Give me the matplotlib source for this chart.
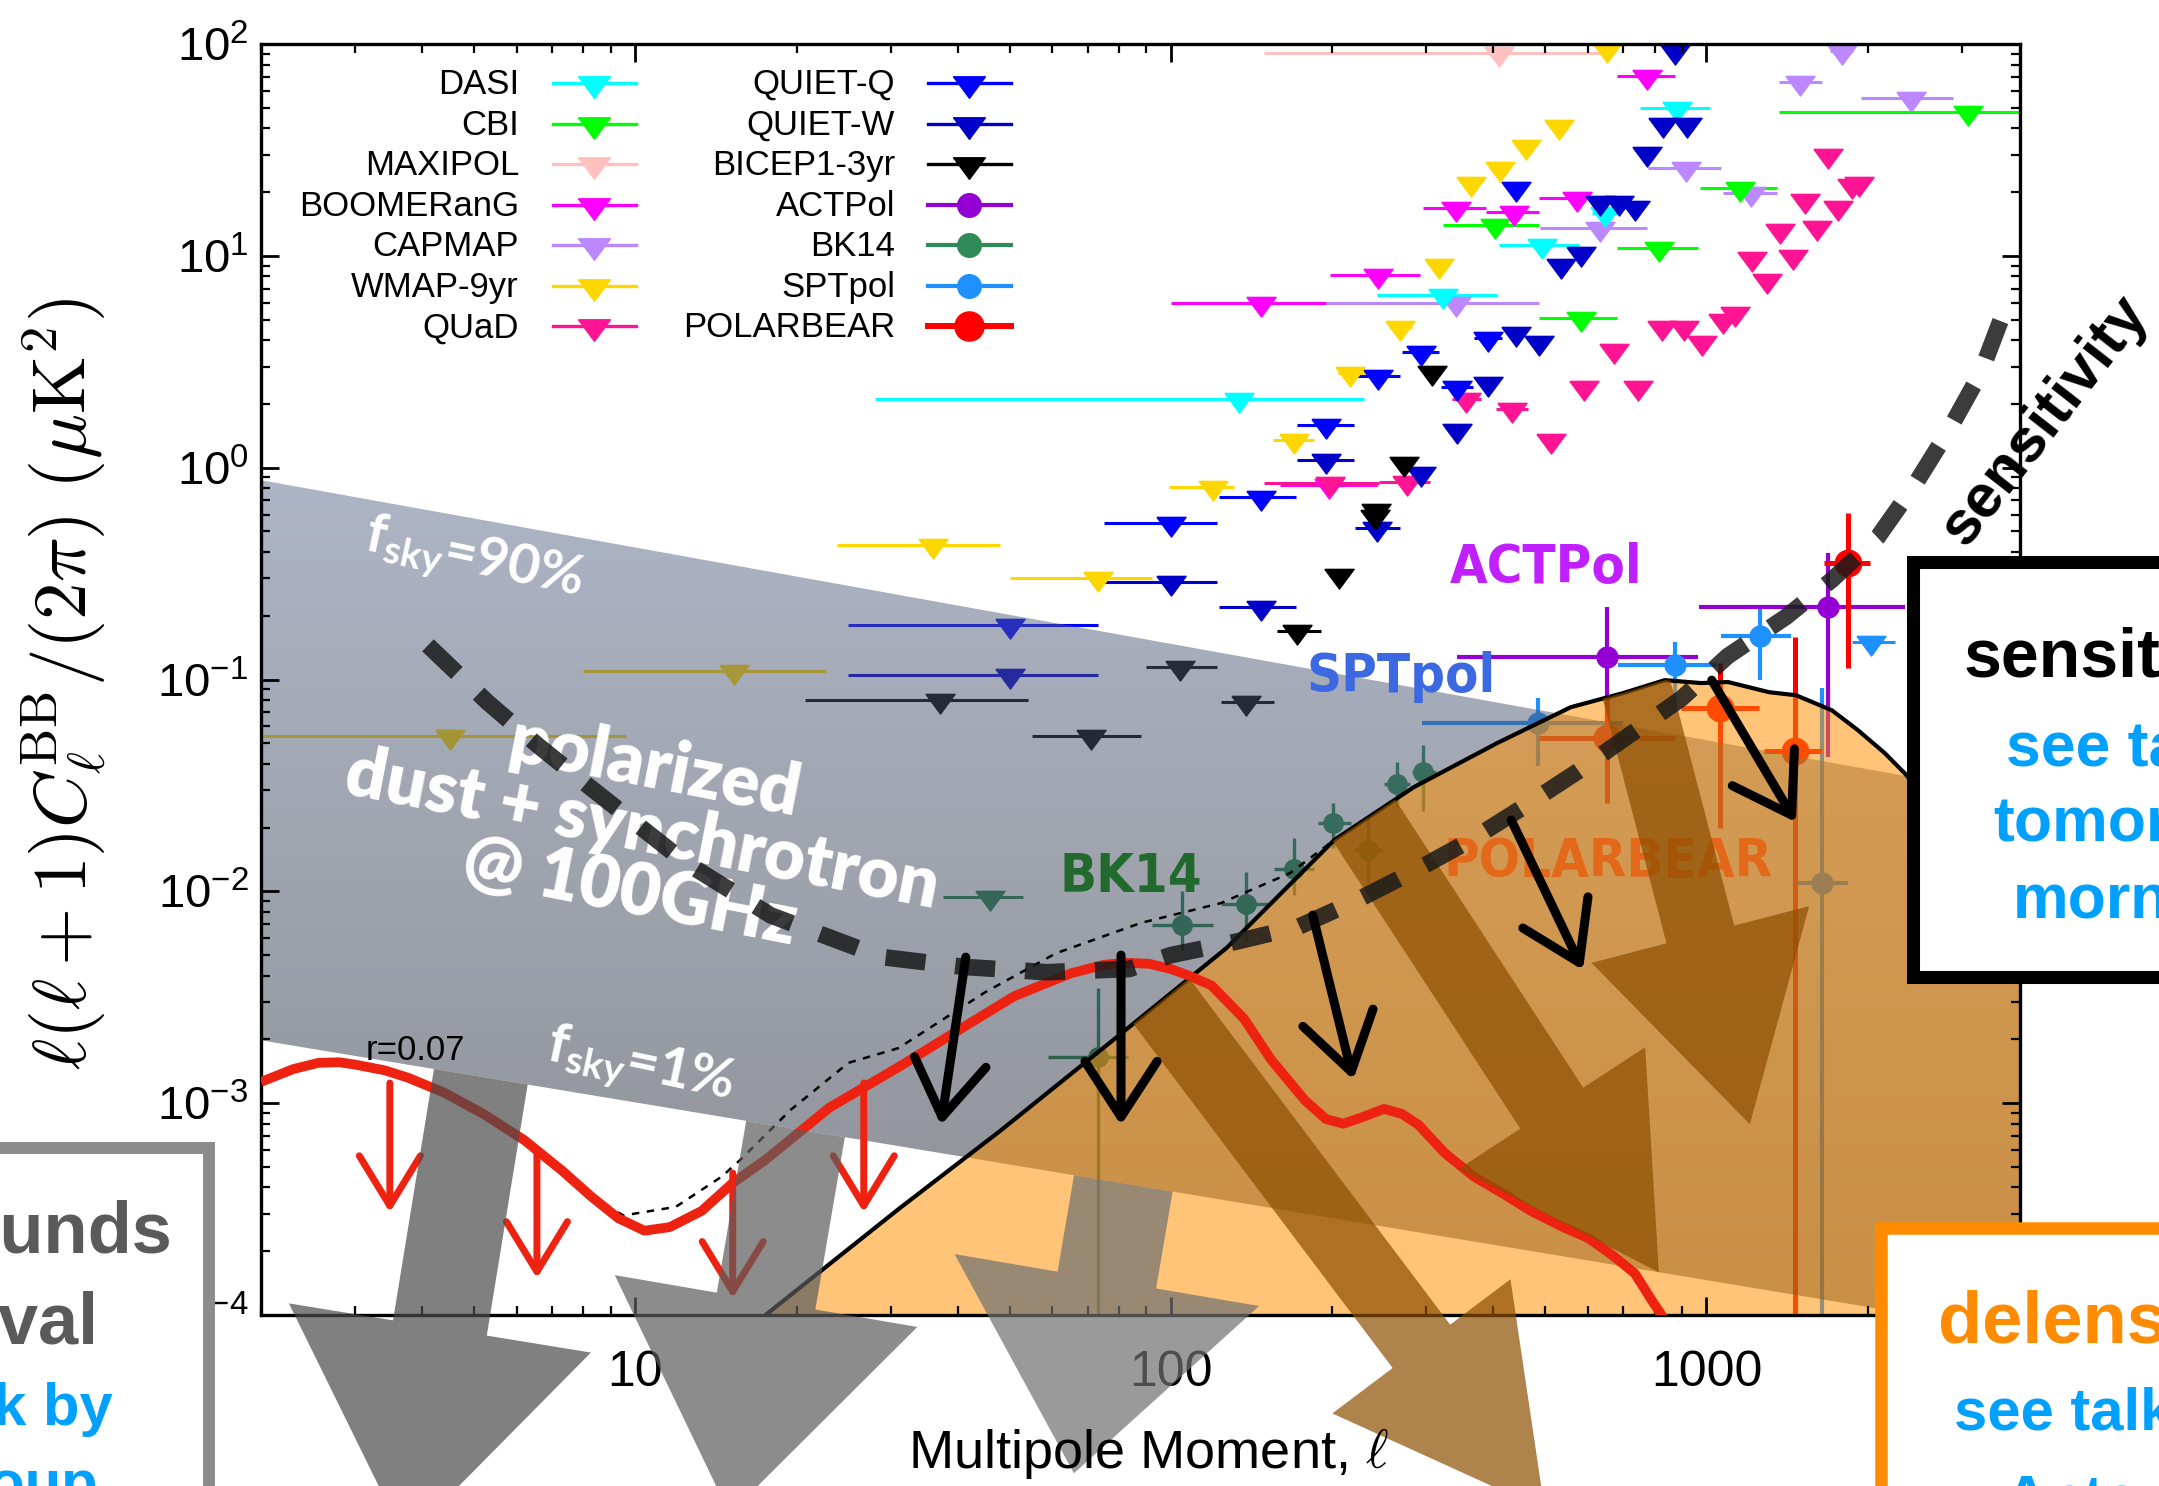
import numpy as np
import matplotlib
matplotlib.use("Agg")
import matplotlib.pyplot as plt
from matplotlib.patches import Polygon, Rectangle, FancyArrowPatch, ArrowStyle
from matplotlib.ticker import LogLocator, NullFormatter

W, H = 2159, 1486

# ---------------- upper limits (ell, ell_lo, ell_hi, value) ----------------
dasi_ell = [134, 322, 493, 646, 881]
dasi_lo = [28, 243, 410, 612, 752]
dasi_hi = [229, 407, 578, 690, 1016]
dasi_val = [2.1, 6.5, 11.2, 16, 50]

cbi_ell = [403, 583, 815, 1154, 3076]
cbi_lo = [322, 486, 681, 972, 1365]
cbi_hi = [486, 681, 964, 1352, 3850]
cbi_val = [14, 5.1, 10.9, 21, 48]

maxipol_ell = [410]
maxipol_lo = [149]
maxipol_hi = [641]
maxipol_val = [91]

boom_ell = [147, 197, 244, 340, 437, 573, 774]
boom_lo = [100, 160, 198, 295, 388, 486, 681]
boom_hi = [195, 243, 292, 387, 486, 661, 873]
boom_val = [6.0, 0.83, 8.1, 16.8, 16.1, 18.7, 70.6]

capmap_ell = [340, 633, 916, 1210, 1493, 1790, 2410]
capmap_lo = [195, 489, 779, 1074, 1365, 1700, 1941]
capmap_hi = [486, 774, 1064, 1352, 1641, 1880, 2884]
capmap_val = [6.0, 13.5, 26, 19.8, 66, 93, 55.6]

wmap_ell = [4.5, 15.3, 36, 73, 120, 170, 216, 268, 316, 363, 411, 460, 530, 652]
wmap_lo = [2, 8, 23.8, 50, 99, 155, 205, 255, 306, 352, 399, 447, 515, 630]
wmap_hi = [9.6, 22.7, 48, 92, 131, 185, 230, 282, 327, 375, 423, 473, 545, 675]
wmap_val = [0.054, 0.11, 0.43, 0.30, 0.81, 1.35, 2.8, 4.6, 9.1, 22, 26, 33, 41, 95]

quad_ell = [198, 276, 356, 434, 513, 590, 672, 745, 826, 908, 982, 1074,
            1130, 1216, 1297, 1371, 1449, 1528, 1608, 1687, 1758, 1870, 1928]
quad_lo = [149, 245, 335, 405, 498, 575, 655, 728, 810, 892, 965, 1055,
           1110, 1196, 1276, 1350, 1428, 1505, 1585, 1663, 1735, 1845, 1905]
quad_hi = [245, 305, 380, 465, 528, 606, 690, 762, 842, 925, 1000, 1093,
           1150, 1236, 1318, 1392, 1470, 1550, 1630, 1710, 1780, 1895, 1950]
quad_val = [0.85, 0.86, 2.1, 1.9, 1.35, 2.4, 3.6, 2.4, 4.6, 4.6, 3.9, 5.0,
            5.4, 9.8, 7.7, 13.2, 10.0, 18.4, 13.7, 30, 17, 21.6, 22]

qq_ell = [50, 100, 147, 195, 244, 293, 342, 391, 441]
qq_lo = [25, 75, 123, 172, 221, 270, 320, 368, 430]
qq_hi = [73, 122, 171, 220, 268, 316, 367, 415, 452]
qq_val = [0.18, 0.55, 0.73, 1.59, 2.7, 3.5, 2.4, 4.1, 21]

qw_ell = [50, 100, 147, 195, 243, 293, 342, 391, 440, 486, 535, 583, 633,
          687, 736, 774, 830, 918, 873]
qw_lo = [25, 75, 123, 172, 221, 283, 335, 385, 432, 478, 528, 576, 626,
         680, 729, 767, 822, 910, 865]
qw_hi = [73, 122, 171, 220, 268, 303, 350, 398, 448, 494, 542, 590, 640,
         694, 743, 781, 838, 926, 881]
qw_val = [0.105, 0.29, 0.22, 1.09, 0.52, 0.94, 1.5, 2.5, 4.3, 3.9, 9.1, 10.3,
          18, 18, 17, 30.5, 42, 42, 93]

bicep_ell = [37, 71, 104, 138, 172, 206, 240, 242, 273, 307]
bicep_lo = [20.7, 55, 90, 124, 158, 197, 232, 234, 265, 300]
bicep_hi = [54, 88, 122, 156, 191, 215, 248, 250, 281, 314]
bicep_val = [0.080, 0.054, 0.115, 0.078, 0.17, 0.31, 0.59, 0.63, 1.05, 2.84]

bk_ul_ell, bk_ul_lo, bk_ul_hi, bk_ul_val = [46], [37.5], [53], [0.0094]
spt_ul_ell, spt_ul_lo, spt_ul_hi, spt_ul_val = [2029], [1870], [2250], [0.15]

# ---------------- detections ----------------
bk_ell = [73, 105, 138, 170, 201, 233, 264, 296]
bk_ell_lo = [59, 92, 124, 156, 188, 220, 250, 282]
bk_ell_hi = [83, 120, 152, 185, 217, 248, 280, 312]
bk_val = [0.00165, 0.0069, 0.0087, 0.0128, 0.021, 0.0156, 0.032, 0.0366]
bk_err_lo = [1e-6, 0.0053, 0.0059, 0.0096, 0.016, 0.011, 0.025, 0.024]
bk_err_hi = [0.0035, 0.010, 0.0123, 0.0178, 0.026, 0.022, 0.041, 0.049]

act_ell = [652, 1687]
act_ell_lo = [342, 968]
act_ell_hi = [964, 2344]
act_val = [0.128, 0.22]
act_err_lo = [0.028, 0.043]
act_err_hi = [0.22, 0.395]

spt_ell = [484, 873, 1259, 1646]
spt_ell_lo = [294, 683, 1064, 1469]
spt_ell_hi = [700, 1045, 1438, 1837]
spt_val = [0.062, 0.117, 0.16, 0.011]
spt_err_lo = [0.039, 0.079, 0.1, 1e-6]
spt_err_hi = [0.082, 0.15, 0.22, 0.091]

pb_ell = [652, 1060, 1463, 1837]
pb_ell_lo = [486, 895, 1280, 1660]
pb_ell_hi = [873, 1253, 1644, 2018]
pb_val = [0.053, 0.073, 0.046, 0.355]
pb_err_lo = [0.026, 0.02, 1e-6, 0.113]
pb_err_hi = [0.084, 0.119, 0.158, 0.61]

# ---------------- theory / forecast curves ----------------
tensor_ell = [2.0, 2.3, 2.56, 2.8, 3.0, 3.4, 3.76, 4.4, 5.2, 6.2, 7.3, 8.3,
              9.3, 10.4, 11.6, 13.3, 15.2, 17.5, 23, 31, 40, 51, 65, 75, 82,
              91, 100, 108, 119, 137, 154, 178, 195, 210, 228, 250, 270, 290,
              325, 368, 420, 470, 540, 603, 670, 735, 791, 850]
tensor_bb = [1.26e-3, 1.45e-3, 1.55e-3, 1.56e-3, 1.52e-3, 1.43e-3, 1.32e-3,
             1.12e-3, 8.9e-4, 6.7e-4, 4.8e-4, 3.6e-4, 2.86e-4, 2.5e-4,
             2.6e-4, 3.1e-4, 4.2e-4, 5.4e-4, 9.5e-4, 1.48e-3, 2.2e-3, 3.2e-3,
             4.1e-3, 4.5e-3, 4.6e-3, 4.55e-3, 4.3e-3, 4.0e-3, 3.6e-3, 2.5e-3,
             1.6e-3, 1.03e-3, 8.4e-4, 8.0e-4, 8.6e-4, 9.4e-4, 8.9e-4, 7.9e-4,
             5.8e-4, 4.5e-4, 3.7e-4, 3.1e-4, 2.6e-4, 2.3e-4, 1.9e-4, 1.57e-4,
             1.17e-4, 8.9e-5]

total_ell = [8.3, 9.5, 11.9, 14.5, 15.7, 19.5, 25, 31, 45, 61, 88, 124, 167, 202]
total_bb = [3.6e-4, 2.95e-4, 3.24e-4, 4.5e-4, 5.4e-4, 9.3e-4, 1.55e-3,
            1.82e-3, 3.34e-3, 5.1e-3, 7.1e-3, 8.8e-3, 0.0122, 0.0175]

lens_ell = [17.5, 31, 48, 80, 127, 202, 284, 406, 558, 699, 836, 977, 1097,
            1309, 1469, 1714, 1917, 2153, 2345, 3000, 3850]
lens_bb = [1e-4, 3.16e-4, 7.4e-4, 2.09e-3, 5.4e-3, 0.0175, 0.031, 0.050,
           0.074, 0.0863, 0.0993, 0.0962, 0.0973, 0.0871, 0.0843, 0.0716,
           0.0577, 0.0449, 0.0361, 0.0178, 0.0079]

sens_ell = [4.1, 5.3, 6.6, 8.1, 12.4, 17.9, 28.8, 41, 58.6, 83.6, 100, 133,
            173, 221, 287, 365, 454, 573, 722, 900, 1096, 1406, 1714, 2089,
            2460, 2851, 3251, 3589]
sens_bb = [0.145, 0.078, 0.0485, 0.032, 0.0137, 7.7e-3, 4.9e-3, 4.4e-3,
           4.15e-3, 4.3e-3, 5.0e-3, 5.8e-3, 6.8e-3, 9.0e-3, 0.0126, 0.0176,
           0.0249, 0.0366, 0.0552, 0.0817, 0.129, 0.197, 0.295, 0.47, 0.845,
           1.54, 2.8, 5.4]

# foreground band (f_sky = 90% top edge, f_sky = 1% bottom edge)
band_ell = [2, 3850]
band_hi = [0.873, 0.028]
band_lo = [1.98e-3, 8.3e-5]

# annotation arrows: (tail, tip)
red_arrows = [((3.48, 1.245e-3), (3.48, 3.05e-4)), ((6.55, 6.0e-4), (6.55, 1.49e-4)),
              ((15.2, 4.68e-4), (15.2, 1.2e-4)), ((26.7, 1.245e-3), (26.7, 3.05e-4))]
black_arrows = [((41.4, 4.89e-3), (37.2, 7.87e-4)), ((80.7, 5.0e-3), (80.7, 7.87e-4)),
                ((184, 7.73e-3), (219, 1.29e-3)), ((432, 0.0217), (588, 4.25e-3)),
                ((1023, 0.0993), (1469, 0.0212))]
gray_arrows = [((5.37, 2.58e-3), (3.72, 8.65e-6), 95, 306, 215, '#4a4a4a'),
               ((20.7, 1.34e-3), (15.0, 1.15e-5), 100, 307, 216, '#5c5c5c'),
               ((84.5, 7.14e-4), (65.9, 1.79e-5), 100, 309, 196, '#707070')]
brown_arrows = [((81.7, 5.2e-3), (499, 1.2e-5), 72, 223, 205),
                ((202, 0.0354), (815, 1.59e-4), 75, 223, 196),
                ((708, 0.138), (1205, 7.96e-4), 70, 225, 196)]

plt.rcParams['font.family'] = ['Liberation Sans', 'DejaVu Sans']
plt.rcParams['mathtext.fontset'] = 'custom'
plt.rcParams['mathtext.rm'] = 'Lato'
plt.rcParams['mathtext.bf'] = 'Lato:bold'
plt.rcParams['mathtext.it'] = 'Lato:italic'
plt.rcParams['axes.unicode_minus'] = False


def fx(px):
    return px / W


def fy(py):
    return 1 - py / H


fig = plt.figure(figsize=(W / 100, H / 100), dpi=100)
ax = fig.add_axes([fx(261), fy(1315), (2020 - 261) / W, (1315 - 44) / H])
ax.set_xscale('log')
ax.set_yscale('log')

TRI = [(-1, 0.42), (1, 0.42), (0, -0.93), (-1, 0.42)]


def upper(ell, lo, hi, val, color, ms=21):
    ell = np.array(ell, float)
    ax.errorbar(ell, val, xerr=[ell - np.array(lo), np.array(hi) - ell],
                marker=TRI, ms=ms, ls='none', color=color, elinewidth=2.2,
                capsize=0, zorder=2)


def detect(ell, elo, ehi, val, vlo, vhi, color, ms, lw):
    ell = np.array(ell, float)
    val = np.array(val, float)
    ax.errorbar(ell, val, xerr=[ell - np.array(elo), np.array(ehi) - ell],
                yerr=[val - np.array(vlo), np.array(vhi) - val], fmt='o',
                ms=ms, color=color, elinewidth=lw, capsize=0, zorder=2)


C_DASI, C_CBI, C_MAXI, C_BOOM = '#00FFFF', '#00FF00', '#FFC0C0', '#FF00FF'
C_CAP, C_WMAP, C_QUAD = '#BB88FF', '#FFD700', '#FF1493'
C_QQ, C_QW, C_B1 = '#0000FF', '#0000C8', '#000000'
C_ACT, C_BK, C_SPT, C_PB = '#9400D3', '#2E8B57', '#1E90FF', '#FF0000'

upper(maxipol_ell, maxipol_lo, maxipol_hi, maxipol_val, C_MAXI)
upper(capmap_ell, capmap_lo, capmap_hi, capmap_val, C_CAP)
upper(dasi_ell, dasi_lo, dasi_hi, dasi_val, C_DASI)
upper(cbi_ell, cbi_lo, cbi_hi, cbi_val, C_CBI)
upper(boom_ell, boom_lo, boom_hi, boom_val, C_BOOM)
upper(wmap_ell, wmap_lo, wmap_hi, wmap_val, C_WMAP)
upper(quad_ell, quad_lo, quad_hi, quad_val, C_QUAD)
upper(qq_ell, qq_lo, qq_hi, qq_val, C_QQ)
upper(qw_ell, qw_lo, qw_hi, qw_val, C_QW)
upper(bicep_ell, bicep_lo, bicep_hi, bicep_val, C_B1)
upper(bk_ul_ell, bk_ul_lo, bk_ul_hi, bk_ul_val, C_BK)
upper(spt_ul_ell, spt_ul_lo, spt_ul_hi, spt_ul_val, C_SPT)
detect(bk_ell, bk_ell_lo, bk_ell_hi, bk_val, bk_err_lo, bk_err_hi, C_BK, 14, 2.4)
detect(spt_ell, spt_ell_lo, spt_ell_hi, spt_val, spt_err_lo, spt_err_hi, C_SPT, 15, 3)
detect(act_ell, act_ell_lo, act_ell_hi, act_val, act_err_lo, act_err_hi, C_ACT, 15, 3)
detect(pb_ell, pb_ell_lo, pb_ell_hi, pb_val, pb_err_lo, pb_err_hi, C_PB, 19, 3.6)

# ---- grey foreground band with vertical gradient ----
band_verts = [(band_ell[0], band_hi[0]), (band_ell[1], band_hi[1]),
              (band_ell[1], band_lo[1]), (band_ell[0], band_lo[0])]
band_patch = Polygon(band_verts, closed=True, transform=ax.transData)
rows = 512
yax = np.linspace(1, 0, rows)
t = np.clip((0.657 - yax) / 0.67, 0, 1)[:, None]
top_c = np.array([92, 106, 140]) / 255
bot_c = np.array([25, 29, 37]) / 255
grad = np.zeros((rows, 1, 4))
grad[:, 0, :3] = top_c * (1 - t) + bot_c * t
grad[:, 0, 3] = 0.5
im = ax.imshow(grad, extent=[0, 1, 0, 1], transform=ax.transAxes,
               aspect='auto', interpolation='bilinear', zorder=3)
im.set_clip_path(band_patch)

ax.text(5.0, 0.366, r'f$_{\mathbf{sky}}$=90%', color='white', fontsize=40,
        fontweight='bold', family='Lato', rotation=-12, ha='center',
        va='center', rotation_mode='anchor', zorder=3.5)
ax.text(10.2, 1.48e-3, r'f$_{\mathbf{sky}}$=1%', color='white', fontsize=40,
        fontweight='bold', family='Lato', rotation=-12, ha='center',
        va='center', rotation_mode='anchor', zorder=3.5)
ax.text(10.3, 0.0195, 'polarized\ndust + synchrotron\n@ 100GHz', color='white',
        fontsize=51, fontweight='heavy', family='Lato', rotation=-11,
        ha='center', va='center', rotation_mode='anchor', linespacing=0.95,
        multialignment='center', zorder=3.5)

# ---- lensing region ----
ax.fill_between(lens_ell, lens_bb, 1e-4, color='#FF9000', alpha=0.53, lw=0, zorder=4)
ax.plot(lens_ell, lens_bb, color='black', lw=3, zorder=5)
ax.plot(total_ell, total_bb, color='black', lw=1.8, ls=(0, (3, 3)), zorder=5)
ax.plot(tensor_ell, tensor_bb, color='#EE2211', lw=7, zorder=6,
        solid_capstyle='butt', solid_joinstyle='round')

ax.text(655, 0.0117, 'POLARBEAR', color='#E86010', alpha=0.85, fontsize=39,
        fontweight='bold', family='DejaVu Sans', fontstretch='condensed',
        ha='center', va='baseline', zorder=6.5)

# big translucent arrows
lens_clip = Polygon(np.column_stack([np.r_[lens_ell[0], lens_ell, lens_ell[-1]],
                                     np.r_[1e-12, lens_bb, 1e-12]]),
                    closed=True, transform=ax.transData)
for tail, tip, tw, hw, hl in brown_arrows:
    a = FancyArrowPatch(tail, tip, arrowstyle=ArrowStyle('simple', head_length=hl,
                        head_width=hw, tail_width=tw), mutation_scale=0.72,
                        shrinkA=0, shrinkB=0, fc='#8C4E00', ec='none', alpha=0.7,
                        zorder=7)
    a.set_clip_path(lens_clip)
    ax.add_patch(a)

band_clip = Polygon([(band_ell[0], band_lo[0]), (band_ell[1], band_lo[1]),
                     (band_ell[1], 1e-12), (band_ell[0], 1e-12)],
                    closed=True, transform=ax.transData)
for tail, tip, tw, hw, hl, col in gray_arrows:
    a = FancyArrowPatch(tail, tip, arrowstyle=ArrowStyle('simple', head_length=hl,
                        head_width=hw, tail_width=tw), mutation_scale=0.72,
                        shrinkA=0, shrinkB=0, fc=col, ec='none', alpha=0.7,
                        zorder=7)
    a.set_clip_path(band_clip)
    ax.add_patch(a)

for tail, tip in red_arrows:
    ax.add_patch(FancyArrowPatch(tail, tip, arrowstyle=ArrowStyle('->',
                 head_length=3.6, head_width=2.2), mutation_scale=10, lw=5,
                 color='#EE2211', shrinkA=0, shrinkB=0, zorder=6.2))

# sensitivity forecast
ax.plot(sens_ell, sens_bb, color='#1a1a1a', alpha=0.85, lw=12,
        ls=(0, (2.4, 1.8)), zorder=8)
for tail, tip in black_arrows:
    ax.add_patch(FancyArrowPatch(tail, tip, arrowstyle=ArrowStyle('->',
                 head_length=4.0, head_width=2.6), mutation_scale=10, lw=6.5,
                 color='black', shrinkA=0, shrinkB=0, zorder=8.5))

# experiment labels
lab = dict(fontsize=39, fontweight='bold', family='DejaVu Sans',
           fontstretch='condensed', ha='center', va='baseline', zorder=9)
ax.text(501, 0.285, 'ACTPol', color='#C020FF', **lab)
ax.text(269, 0.087, 'SPTpol', color='#3C69E1', **lab)
ax.text(84, 0.0099, 'BK14', color='#22692E', **lab)
ax.text(3.88, 1.78e-3, 'r=0.07', fontsize=25, ha='center', va='center', zorder=9)
ax.text(4290, 1.66, 'sensitivity', fontsize=44, fontweight='bold', rotation=52,
        ha='center', va='center', rotation_mode='anchor', zorder=9, clip_on=False)

# ---- legend (marker after label) ----
left_names = ['DASI', 'CBI', 'MAXIPOL', 'BOOMERanG', 'CAPMAP', 'WMAP-9yr', 'QUaD']
left_cols = [C_DASI, C_CBI, C_MAXI, C_BOOM, C_CAP, C_WMAP, C_QUAD]
right_names = ['QUIET-Q', 'QUIET-W', 'BICEP1-3yr', 'ACTPol', 'BK14', 'SPTpol', 'POLARBEAR']
right_cols = [C_QQ, C_QW, C_B1, C_ACT, C_BK, C_SPT, C_PB]
right_marks = ['tri', 'tri', 'tri', 'o', 'o', 'o', 'o']
for i in range(7):
    y = 0.9693 - i * 0.0319
    for names, cols, xr, x0, x1, xm, marks in (
            (left_names, left_cols, 0.1467, 0.166, 0.2132, 0.1893, ['tri'] * 7),
            (right_names, right_cols, 0.3604, 0.3792, 0.4264, 0.4025, right_marks)):
        ax.text(xr, y - 0.0087, names[i], transform=ax.transAxes, ha='right',
                va='baseline', fontsize=25, zorder=9)
        lw = 4.3 if names[i] == 'POLARBEAR' else (3 if marks[i] == 'o' else 2.4)
        ax.plot([x0, x1], [y, y], transform=ax.transAxes, color=cols[i], lw=lw,
                zorder=9, clip_on=False)
        if marks[i] == 'tri':
            ax.plot([xm], [y], transform=ax.transAxes, marker=TRI, ms=23,
                    color=cols[i], ls='none', zorder=9, clip_on=False)
        else:
            ms = 21 if names[i] == 'POLARBEAR' else 17
            ax.plot([xm], [y], transform=ax.transAxes, marker='o', ms=ms,
                    color=cols[i], ls='none', zorder=9, clip_on=False)

# ---- axes styling ----
ax.set_xlim(2, 3850)
ax.set_ylim(1e-4, 1e2)
ax.set_xticks([10, 100, 1000], labels=['10', '100', '1000'])
ax.xaxis.set_minor_locator(LogLocator(base=10, subs=np.arange(2, 10), numticks=30))
ax.xaxis.set_minor_formatter(NullFormatter())
ax.yaxis.set_major_locator(LogLocator(base=10, numticks=12))
ax.yaxis.set_minor_locator(LogLocator(base=10, subs=np.arange(2, 10), numticks=30))
ax.yaxis.set_minor_formatter(NullFormatter())
ax.tick_params(which='both', direction='in', top=True, right=True)
ax.tick_params(which='major', length=13, width=2)
ax.tick_params(which='minor', length=6.5, width=1.6)
ax.tick_params(axis='x', which='major', pad=25, labelsize=36)
ax.tick_params(axis='y', which='major', pad=9, labelsize=34)
for s in ax.spines.values():
    s.set_linewidth(2.4)
    s.set_zorder(4.5)
ax.xaxis.set_zorder(4.5)
ax.yaxis.set_zorder(4.5)

fig.text(fx(64), fy(684), r'$\ell(\ell+1)C_\ell^{\rm BB}/(2\pi)\ (\mu{\rm K}^2)$',
         rotation=90, ha='center', va='center', fontsize=54, math_fontfamily='cm')
fig.text(fx(1148), fy(1468), r'Multipole Moment, $\ell$', ha='center',
         va='baseline', fontsize=39, math_fontfamily='cm')

# ---- slide call-out boxes ----
fig.add_artist(Rectangle((fx(1912.5), fy(976.5)), (2400 - 1912.5) / W,
               (976.5 - 561.5) / H, transform=fig.transFigure, fc='white',
               ec='black', lw=9.4, zorder=20))
fig.add_artist(Rectangle((fx(-200), fy(1700)), (208.5 + 200) / W,
               (1700 - 1147.5) / H, transform=fig.transFigure, fc='white',
               ec='#8C8C8C', lw=8.6, zorder=20))
fig.add_artist(Rectangle((fx(1880.5), fy(1700)), (2400 - 1880.5) / W,
               (1700 - 1228) / H, transform=fig.transFigure, fc='white',
               ec='#FF8C00', lw=9, zorder=20))

BLUE = '#00A0FF'
box_text = [
    (2130, 677, 'sensitivity', 'black', 49), (2138, 765, 'see talks', BLUE, 45),
    (2138, 842, 'tomorrow', BLUE, 45), (2138, 918, 'morning', BLUE, 45),
    (-40, 1253, 'foregrounds', '#5A5A5A', 52), (-40, 1343, 'removal', '#5A5A5A', 52),
    (-40, 1425, 'see talk by', BLUE, 43), (-40, 1502, 'the group', BLUE, 43),
    (2107, 1343, 'delensing', '#FF8C00', 52), (2107, 1430, 'see talk by', BLUE, 43),
    (2107, 1517, 'Antony', BLUE, 43),
]
for x, y, s, c, fs in box_text:
    fig.text(fx(x), fy(y), s, color=c, fontsize=fs, fontweight='bold',
             ha='center', va='baseline', zorder=21)

fig.savefig('out.png', dpi=100)
